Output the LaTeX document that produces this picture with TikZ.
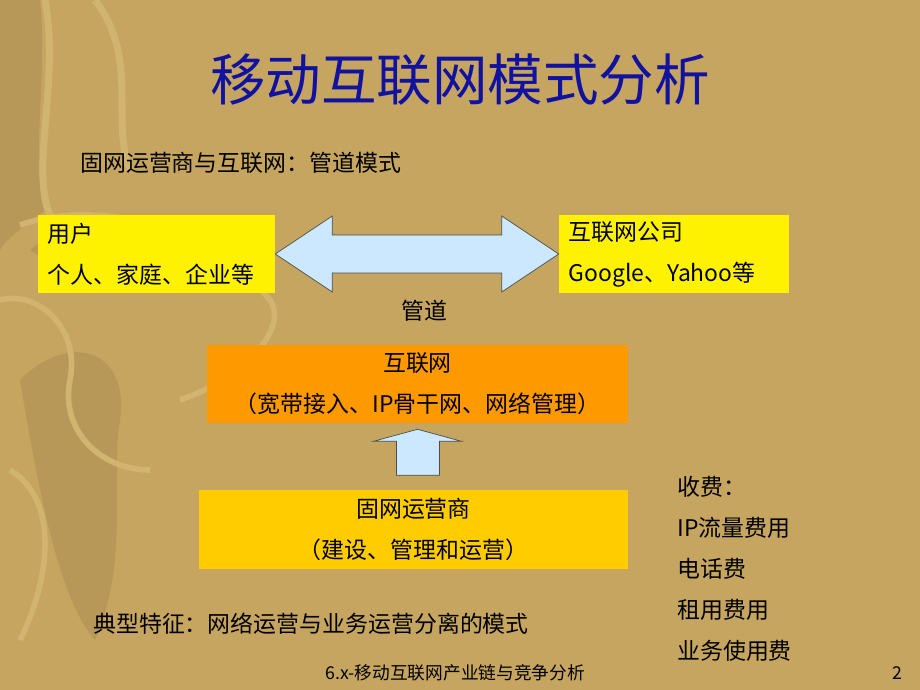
\documentclass[tikz,border=0pt]{standalone}
\usepackage{fontspec}
\setmainfont{Noto Sans CJK SC}
\usetikzlibrary{calc}
\definecolor{bgtan}{RGB}{197,165,95}
\definecolor{masklight}{RGB}{208,180,112}
\definecolor{maskdark}{RGB}{184,152,88}
\definecolor{titleblue}{RGB}{18,18,160}
\definecolor{pipeblue}{RGB}{204,232,255}
\definecolor{netorange}{RGB}{255,153,0}
\definecolor{opgold}{RGB}{255,204,0}

\begin{document}
\begin{tikzpicture}[x=0.025cm,y=-0.025cm]%[show background grid]
\tikzstyle{every node}=[inner sep=0pt]
\tikzstyle{body}=[font=\fontsize{16.3}{29.1}\selectfont]
\tikzstyle{box}=[body, rectangle, minimum height=1.95cm, inner xsep=0.25cm]
\tikzstyle{blockarrow}=[draw=black!70, fill=pipeblue, line width=0.5pt, line join=miter]

% page and mask in the background
\useasboundingbox (0,0) rectangle (920,690);
\fill[bgtan] (0,0) rectangle (920,690);
\fill[maskdark] (0,0) -- (40,0) .. controls (48,80) and (30,160) .. (45,210) .. controls (20,230) and (5,240) .. (0,250) -- cycle;
\fill[maskdark] (20,380) .. controls (70,330) and (130,350) .. (120,420) .. controls (110,480) and (130,560) .. (95,640) .. controls (60,600) and (40,500) .. (20,380) -- cycle;
\fill[maskdark] (30,250) .. controls (60,225) and (100,230) .. (120,250) .. controls (95,265) and (55,268) .. (30,250) -- cycle;
\draw[masklight, line width=5pt] (45,0) .. controls (60,80) and (30,170) .. (50,215);
\draw[masklight, line width=4pt] (20,225) .. controls (90,200) and (200,220) .. (270,300) .. controls (290,330) and (240,380) .. (180,400);
\draw[masklight, line width=4pt] (0,300) .. controls (40,290) and (80,330) .. (70,380) .. controls (60,430) and (100,470) .. (150,470);
\draw[masklight, line width=5pt] (95,0) .. controls (140,60) and (110,120) .. (130,170);
\draw[masklight, line width=4pt] (10,470) .. controls (60,500) and (50,580) .. (20,640);

\node[font=\fontsize{39.5}{44}\selectfont, text=titleblue] (title) at (460,80) {移动互联网模式分析};
\node[body, anchor=west] (pipemode) at (80,163) {固网运营商与互联网：管道模式};

\node[box, fill=yellow, minimum width=5.925cm, text width=5.425cm, align=left] (user) at (156.5,254) {用户\\个人、家庭、企业等};
\node[box, fill=yellow, minimum width=5.75cm, text width=5.25cm, align=left] (company) at (674,254) {互联网公司\\Google、Yahoo等};

\draw[blockarrow] (user.east) -- ($(user.east)+(57,-38)$) -- ($(user.east)+(57,-19)$)
  -- ($(company.west)+(-57,-19)$) -- ($(company.west)+(-57,-38)$) -- (company.west)
  -- ($(company.west)+(-57,38)$) -- ($(company.west)+(-57,19)$)
  -- ($(user.east)+(57,19)$) -- ($(user.east)+(57,38)$) -- cycle;
\node[body] (pipe) at (424,311) {管道};

\node[box, fill=netorange, minimum width=10.525cm, text width=10.025cm, align=center] (internet) at (417.5,384) {互联网\\（宽带接入、IP骨干网、网络管理）};
\node[box, fill=opgold, minimum width=10.725cm, text width=10.225cm, align=center] (operator) at (413.5,529.5) {固网运营商\\（建设、管理和运营）};

\coordinate (uptip) at ($(internet.south)+(0,6)$);
\coordinate (upfoot) at ($(operator.north)+(0,-15)$);
\draw[blockarrow] (uptip) -- ++(44,12) -- ++(-22,0) -- ($(upfoot -| uptip)+(22,0)$)
  -- ($(upfoot -| uptip)+(-21,0)$) -- ($(uptip)+(-21,12)$) -- ++(-23,0) -- cycle;

\node[body, anchor=west, align=left] (fees) at (677,569) {收费：\\IP流量费用\\电话费\\租用费用\\业务使用费};
\node[body, anchor=west] (feature) at (93,624) {典型特征：网络运营与业务运营分离的模式};

\node[font=\fontsize{12.6}{14}\selectfont, anchor=west] (footer) at (325,673) {6.x-移动互联网产业链与竞争分析};
\node[font=\fontsize{12.6}{14}\selectfont, anchor=east] (pageno) at (903,673) {2};
\end{tikzpicture}
\end{document}
